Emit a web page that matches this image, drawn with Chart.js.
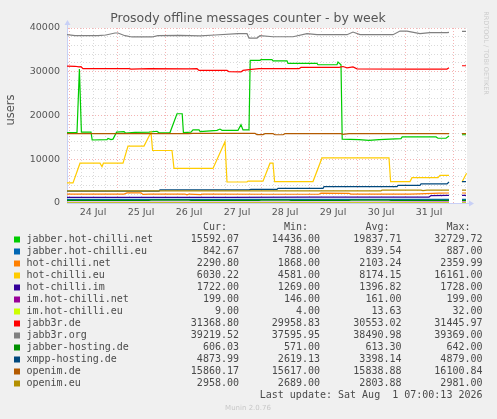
<!DOCTYPE html>
<html>
<head>
<meta charset="utf-8">
<title>Prosody offline messages counter - by week</title>
<script src="https://cdn.jsdelivr.net/npm/chart.js@4.4.1/dist/chart.umd.min.js"></script>
<style>
  html, body { margin: 0; padding: 0; background: #f0f0f0; }
  canvas { display: block; }
</style>
</head>
<body>
<canvas id="chart" width="497" height="419"></canvas>
<script>
// x values are hours since 24 Jul 00:00 (munin week graph: 1px = 30 min)
const dayLabels = ['24 Jul', '25 Jul', '26 Jul', '27 Jul', '28 Jul', '29 Jul', '30 Jul', '31 Jul'];

const seriesNames = [
  'jabber.hot-chilli.net', 'jabber.hot-chilli.eu', 'hot-chilli.net', 'hot-chilli.eu',
  'hot-chilli.im', 'im.hot-chilli.net', 'im.hot-chilli.eu', 'jabb3r.de', 'jabb3r.org',
  'jabber-hosting.de', 'xmpp-hosting.de', 'openim.de', 'openim.eu'
];
const seriesColors = [
  '#00CC00', '#0066B3', '#FF8000', '#FFCC00', '#330099', '#990099', '#CCFF00',
  '#FF0000', '#808080', '#008F00', '#00487D', '#B35A00', '#B38F00'
];
const curValues = ['15592.07', '842.67', '2290.80', '6030.22', '1722.00', '199.00', '9.00', '31368.80', '39219.52', '606.03', '4873.99', '15860.17', '2958.00'];
const minValues = ['14436.00', '788.00', '1868.00', '4581.00', '1269.00', '146.00', '4.00', '29958.83', '37595.95', '571.00', '2619.13', '15617.00', '2689.00'];
const avgValues = ['19837.71', '839.54', '2103.24', '8174.15', '1396.82', '161.00', '13.63', '30553.02', '38490.98', '613.30', '3398.14', '15838.88', '2803.88'];
const maxValues = ['32729.72', '887.00', '2359.99', '16161.00', '1728.00', '199.00', '32.00', '31445.97', '39369.00', '642.00', '4879.00', '16100.84', '2981.00'];
const lastUpdate = 'Last update: Sat Aug  1 07:00:13 2026';

// [hour, users]; null marks the gap before the latest samples
const jabberHotChilliNet = [[-1,16100],[4,16100],[5.2,30600],[6.2,16200],[11,16200],[11.6,14400],[19,14500],[19.5,14750],[21,14500],[22,14600],[23.8,16200],[27.5,16300],[28.3,16000],[33,16150],[40,16200],[44,16400],[45,16050],[50.5,16100],[54,20400],[56.6,20400],[57.2,16100],[61,16200],[62,16700],[65,16700],[65.6,16300],[74,16600],[75.5,16900],[76.5,16600],[84.5,16600],[86,17900],[87,16700],[90,16700],[90.6,32600],[95.5,32600],[96,32750],[101.5,32750],[102,32500],[109,32500],[109.5,31900],[124,31900],[124.5,31600],[134,31600],[134.5,32200],[136,31600],[136.6,14600],[145,14500],[150,14300],[155,14500],[166,14700],[166.6,15100],[183.5,15100],[184.5,14800],[188.5,14800],[190,15300],[191,null],[196.5,15600],[198.5,15600]];
const jabberHotChilliEu = [[-1,840],[60,830],[100,850],[190,843],[191,null],[196.5,843],[198.5,843]];
const hotChilliNet = [[-1,2050],[27.5,2050],[29,2300],[36,2300],[37,1950],[40,2050],[58,2050],[59,1870],[60,2050],[66,1900],[67,2050],[100,2000],[125,2000],[126,2250],[140,2200],[141,2050],[170,2050],[175,2100],[185,2250],[190,2290],[191,null],[196.5,2290],[198.5,2290]];
const hotChilliEu = [[-1,4600],[2,4600],[5.5,9100],[15.5,9100],[16.5,8300],[17.2,9100],[27,9100],[29.5,13000],[37.5,13000],[41,16160],[41.8,12000],[51.5,12000],[52.5,7900],[72,7900],[78,14000],[79,4800],[89,4800],[89.5,5000],[97,5000],[100.5,9100],[102,9100],[102.8,4900],[122,4900],[126.5,10300],[160,10300],[160.8,4900],[170.5,4900],[171.5,5800],[184.5,5800],[185.5,6300],[190,6300],[191,null],[196.5,4800],[198.8,6800]];
const hotChilliIm = [[-1,1300],[80,1290],[120,1350],[180,1350],[181,1700],[190,1722],[191,null],[196.5,1722],[198.5,1722]];
const imHotChilliNet = [[-1,150],[100,150],[150,170],[190,199],[191,null],[196.5,199],[198.5,199]];
const imHotChilliEu = [[-1,10],[190,9],[191,null],[196.5,9],[198.5,9]];
const jabb3rDe = [[-1,31300],[3,31250],[5,31100],[6,31150],[7,30700],[30,30700],[31,30600],[40,30700],[60,30650],[64,30700],[65,30300],[79,30300],[80,30000],[86,29960],[87,30300],[90,30500],[95,30700],[115,30700],[116,31000],[135,31000],[137,31200],[139,30900],[142,31100],[144,30650],[170,30620],[189,30620],[190,30900],[191,null],[196.5,31370],[198.5,31370]];
const jabb3rOrg = [[-1,38470],[3,38240],[14.5,38240],[18.5,38400],[23,38860],[24.5,38860],[28,38240],[31.5,37950],[41.5,37950],[44.5,38240],[55.5,38300],[65.5,38200],[73,38400],[84.5,38700],[89,38700],[90,37700],[94,37700],[95.5,38240],[102,38000],[112,38000],[119,38700],[124,38470],[139,38470],[142,39080],[145.5,38500],[162,38470],[165.5,39300],[169,39300],[175.5,38700],[180.5,38930],[189,38930],[190,39000],[191,null],[196.5,39220],[198.5,39220]];
const jabberHostingDe = [[-1,620],[40,600],[41,640],[60,640],[61,590],[95,590],[96,640],[110,640],[111,590],[140,600],[141,640],[160,640],[161,600],[190,606],[191,null],[196.5,606],[198.5,606]];
const xmppHostingDe = [[-1,2700],[45,2700],[45.5,3000],[90,3000],[91,3130],[104,3130],[104.5,3360],[127,3360],[127.5,3730],[164,3730],[164.5,4050],[175.5,4050],[176,4350],[189,4350],[190,4800],[191,null],[196.5,4874],[198.5,4874]];
const openimDe = [[-1,15850],[60,15850],[62,15900],[93,15900],[94,15650],[97,15650],[98,15850],[102,15850],[103,15600],[107,15600],[108,15850],[136,15850],[137,15700],[140,15850],[190,15850],[191,null],[196.5,15860],[198.5,15860]];
const openimEu = [[-1,2750],[156,2750],[156.5,2958],[176,2958],[177,2850],[179,2958],[190,2958],[191,null],[196.5,2958],[198.5,2958]];

const seriesData = [jabberHotChilliNet, jabberHotChilliEu, hotChilliNet, hotChilliEu, hotChilliIm,
  imHotChilliNet, imHotChilliEu, jabb3rDe, jabb3rOrg, jabberHostingDe, xmppHostingDe, openimDe, openimEu];

const TEXT = '#4a4a4a';
const AXIS = '#c8d0f6';

const datasets = seriesNames.map((name, i) => ({
  label: name,
  data: seriesData[i].map(p => ({ x: p[0], y: p[1] })),
  borderColor: seriesColors[i],
  backgroundColor: seriesColors[i],
  borderWidth: 1.2,
  pointRadius: 0,
  tension: 0,
  spanGaps: false,
  order: seriesNames.length - i   // later series drawn on top, like rrdtool
}));

const muninPlugin = {
  id: 'munin',
  beforeDraw(chart) {
    const { ctx, chartArea: a } = chart;
    ctx.save();
    ctx.fillStyle = '#f0f0f0';
    ctx.fillRect(0, 0, chart.width, chart.height);
    ctx.fillStyle = '#ffffff';
    ctx.fillRect(a.left, a.top, a.right - a.left, a.bottom - a.top);
    ctx.restore();
  },
  afterDraw(chart) {
    const { ctx, chartArea: a } = chart;
    ctx.save();

    // axis extensions and arrows
    ctx.strokeStyle = AXIS;
    ctx.fillStyle = AXIS;
    ctx.lineWidth = 1;
    ctx.beginPath();
    ctx.moveTo(a.left + 0.5, a.top);
    ctx.lineTo(a.left + 0.5, a.top - 5);
    ctx.moveTo(a.right, a.bottom + 0.5);
    ctx.lineTo(a.right + 3, a.bottom + 0.5);
    ctx.stroke();
    ctx.beginPath();
    ctx.moveTo(a.left + 0.5, a.top - 8);
    ctx.lineTo(a.left - 2.5, a.top - 3);
    ctx.lineTo(a.left + 3.5, a.top - 3);
    ctx.fill();
    ctx.beginPath();
    ctx.moveTo(a.right + 7, a.bottom + 0.5);
    ctx.lineTo(a.right + 2, a.bottom - 2.5);
    ctx.lineTo(a.right + 2, a.bottom + 3.5);
    ctx.fill();

    // title
    ctx.fillStyle = '#555555';
    ctx.font = '12.5px "DejaVu Sans"';
    ctx.textAlign = 'center';
    ctx.textBaseline = 'middle';
    ctx.fillText('Prosody offline messages counter - by week', 248, 19);

    // vertical axis title
    ctx.save();
    ctx.translate(11, 110);
    ctx.rotate(-Math.PI / 2);
    ctx.font = '11.5px "DejaVu Sans"';
    ctx.fillStyle = '#555555';
    ctx.fillText('users', 0, 0);
    ctx.restore();

    // rrdtool watermark
    ctx.save();
    ctx.translate(486, 53);
    ctx.rotate(Math.PI / 2);
    ctx.font = '6.5px "DejaVu Sans"';
    ctx.fillStyle = '#cccccc';
    ctx.fillText('RRDTOOL / TOBI OETIKER', 0, 0);
    ctx.restore();

    // legend table
    const cols = [239, 320, 401.5, 482.5];
    ctx.font = '10px "DejaVu Sans Mono"';
    ctx.fillStyle = TEXT;
    ctx.textAlign = 'right';
    ['Cur:', 'Min:', 'Avg:', 'Max:'].forEach((h, j) => ctx.fillText(h, cols[j] - 12, 227.5));
    seriesNames.forEach((name, i) => {
      const y = 239.5 + i * 12;
      ctx.fillStyle = seriesColors[i];
      ctx.fillRect(14, y - 3, 6, 6);
      ctx.fillStyle = TEXT;
      ctx.textAlign = 'left';
      ctx.fillText(name, 26.5, y);
      ctx.textAlign = 'right';
      [curValues, minValues, avgValues, maxValues].forEach((vals, j) => ctx.fillText(vals[i], cols[j], y));
    });
    ctx.fillText(lastUpdate, 482.5, 395.7);

    ctx.textAlign = 'center';
    ctx.font = '7px "DejaVu Sans"';
    ctx.fillStyle = '#c8c8c8';
    ctx.fillText('Munin 2.0.76', 248, 408.5);
    ctx.restore();
  }
};

const gridGrey = '#dadada';
const gridRed = '#f4b4b4';

new Chart(document.getElementById('chart'), {
  type: 'line',
  data: { datasets },
  plugins: [muninPlugin],
  options: {
    responsive: false,
    animation: false,
    events: [],
    layout: { padding: { left: 0, top: 28, right: 30, bottom: 196 } },
    plugins: { legend: { display: false }, tooltip: { enabled: false }, title: { display: false } },
    scales: {
      x: {
        type: 'linear',
        min: -1,
        max: 199,
        afterFit: s => { s.height = 20; },
        ticks: {
          stepSize: 6,
          includeBounds: false,
          autoSkip: false,
          maxRotation: 0,
          padding: 4,
          color: '#555555',
          font: { family: 'DejaVu Sans', size: 9.5 },
          callback: v => ((v - 12) % 24 === 0 ? dayLabels[(v - 12) / 24] || '' : '')
        },
        grid: {
          drawTicks: false,
          lineWidth: 1,
          color: c => (c.tick && c.tick.value % 24 === 0 ? gridRed : gridGrey)
        },
        border: { display: true, color: AXIS, width: 1, dash: [1, 2] }
      },
      y: {
        min: 0,
        max: 40000,
        afterFit: s => { s.width = 67; },
        ticks: {
          stepSize: 2000,
          autoSkip: false,
          padding: 7,
          color: '#555555',
          font: { family: 'DejaVu Sans', size: 9.5 },
          callback: v => (v % 10000 === 0 ? String(v) : '')
        },
        grid: {
          drawTicks: false,
          lineWidth: 1,
          color: c => (c.tick && c.tick.value % 10000 === 0 ? gridRed : gridGrey)
        },
        border: { display: true, color: AXIS, width: 1, dash: [1, 2] }
      }
    }
  }
});
</script>
</body>
</html>
